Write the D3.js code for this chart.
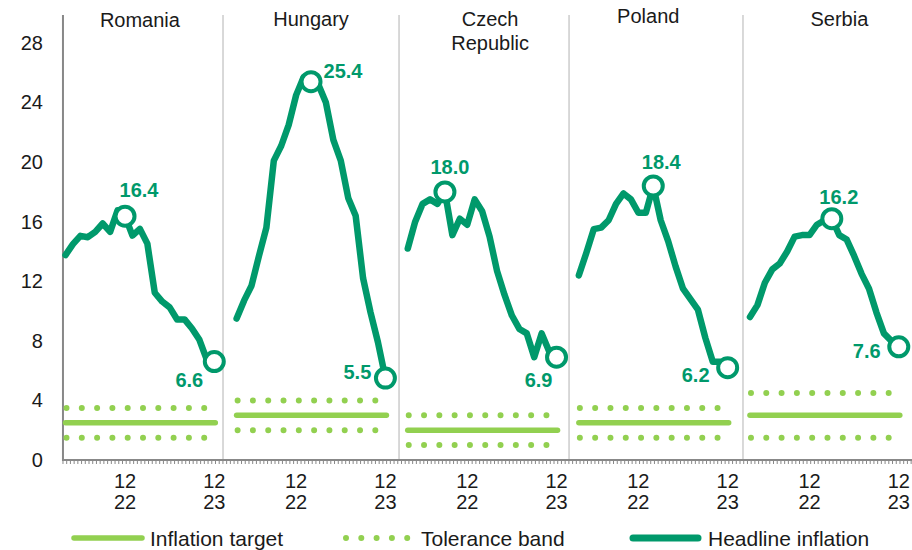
<!DOCTYPE html>
<html>
<head>
<meta charset="utf-8">
<script src="https://cdn.jsdelivr.net/npm/d3@7"></script>
<style>
  html, body { margin: 0; padding: 0; background: #fff; }
  svg { display: block; font-family: "Liberation Sans", Arial, sans-serif; }
</style>
</head>
<body>
<svg id="chart" width="912" height="550"></svg>
<script>
// ---------- DATA ----------
const countries = ["Romania", "Hungary", "Czech\nRepublic", "Poland", "Serbia"];
const months = ["2022-04","2022-05","2022-06","2022-07","2022-08","2022-09","2022-10","2022-11","2022-12",
                "2023-01","2023-02","2023-03","2023-04","2023-05","2023-06","2023-07","2023-08","2023-09",
                "2023-10","2023-11","2023-12"];
const romania = [13.76,14.49,15.05,14.96,15.32,15.88,15.32,16.76,16.37,15.07,15.52,14.53,11.23,10.64,10.25,9.43,9.44,8.83,8.07,6.72,6.61];
const hungary = [9.5,10.7,11.7,13.7,15.6,20.1,21.1,22.5,24.5,25.7,25.4,25.2,24.0,21.5,20.1,17.6,16.4,12.2,9.9,7.9,5.5];
const czech   = [14.2,16.0,17.2,17.5,17.2,18.0,15.1,16.2,15.8,17.5,16.7,15.0,12.7,11.1,9.7,8.8,8.5,6.9,8.5,7.3,6.9];
const poland  = [12.4,13.9,15.5,15.6,16.1,17.2,17.9,17.5,16.6,16.6,18.4,16.1,14.7,13.0,11.5,10.8,10.1,8.2,6.6,6.6,6.2];
const serbia  = [9.6,10.4,11.9,12.8,13.2,14.0,15.0,15.1,15.1,15.8,16.1,16.2,15.1,14.8,13.7,12.5,11.5,9.9,8.5,8.0,7.6];
const headline = [romania, hungary, czech, poland, serbia];
const targets   = [2.5, 3.0, 2.0, 2.5, 3.0];
const bandLow   = [1.5, 2.0, 1.0, 1.5, 1.5];
const bandHigh  = [3.5, 4.0, 3.0, 3.5, 4.5];
const peakIndex = [8, 10, 5, 10, 11];          // highlighted peak month per country
const tickMonthIndex = [8, 20];                 // Dec 2022, Dec 2023
const tickLabels = [["12","22"], ["12","23"]];
const yTicks = [0, 4, 8, 12, 16, 20, 24, 28];
const legendLabels = ["Inflation target", "Tolerance band", "Headline inflation"];

// ---------- LAYOUT / STYLE ----------
const W = 912, H = 550;
const DARK = "#00996B", LIGHT = "#92D050", TXT = "#1a1a1a";
const slotsPerPanel = 23;
const slotW = 7.44;
const x0 = 65.5;
const x = d3.scaleLinear().domain([0, 1]).range([x0, x0 + slotW]);
const y = d3.scaleLinear().domain([0, 28]).range([460, 43]);
const slot = (p, m) => p * slotsPerPanel + m;
const separatorSlots = [21.17, 44.83, 67.68, 91.06];
const axisStartSlot = -0.34, axisEndSlot = (W - x0) / slotW;
const titleLayout = [{dx:0, base:27}, {dx:0, base:26}, {dx:8, base:26}, {dx:-5, base:23}, {dx:15, base:26}];
const peakLabelOff = [[14,-26],[32,-11],[5,-25],[8,-24],[7,-22]];
const endLabelOff  = [[-25,18],[-28,-6],[-18,23],[-32,7],[-32,4]];

const svg = d3.select("#chart");
const fmt = d3.format(".1f");

// separators
svg.append("g").selectAll("line").data(separatorSlots).join("line")
  .attr("x1", d => x(d)).attr("x2", d => x(d))
  .attr("y1", 15).attr("y2", y(0))
  .attr("stroke", "#c4c4c4").attr("stroke-width", 1.3);

// y axis
const yAxis = d3.axisLeft(y).tickValues(yTicks).tickSize(0).tickPadding(20);
const gy = svg.append("g").attr("transform", `translate(${x(axisStartSlot)},0)`).call(yAxis);
gy.select(".domain").remove();
gy.selectAll("text").attr("font-size", 20).attr("fill", TXT)
  .attr("font-family", "'Liberation Sans', Arial, sans-serif");
svg.append("line").attr("x1", x(axisStartSlot)).attr("x2", x(axisStartSlot))
  .attr("y1", 15).attr("y2", y(0) + 1).attr("stroke", "#888").attr("stroke-width", 2);

// x axis minor ticks
const minorTicks = d3.range(axisStartSlot, axisEndSlot, 0.5);
svg.append("g").selectAll("line").data(minorTicks).join("line")
  .attr("x1", d => x(d)).attr("x2", d => x(d))
  .attr("y1", y(0)).attr("y2", y(0) + 4)
  .attr("stroke", "#888").attr("stroke-width", 1);
svg.append("line").attr("x1", x(axisStartSlot)).attr("x2", W)
  .attr("y1", y(0)).attr("y2", y(0)).attr("stroke", "#888").attr("stroke-width", 2);

// x tick labels
countries.forEach((c, p) => {
  tickMonthIndex.forEach((mi, k) => {
    const t = svg.append("text").attr("x", x(slot(p, mi))).attr("text-anchor", "middle")
      .attr("font-size", 20).attr("fill", TXT);
    tickLabels[k].forEach((s, li) => {
      t.append("tspan").attr("x", x(slot(p, mi))).attr("y", 488 + li * 21).text(s);
    });
  });
});

// panels
const line = d3.line().x(d => x(d[0])).y(d => y(d[1])).curve(d3.curveLinear);
countries.forEach((c, p) => {
  const g = svg.append("g");
  const xs = x(slot(p, 0)), xe = x(slot(p, months.length - 1));
  // tolerance band dots
  [bandLow[p], bandHigh[p]].forEach(v => {
    g.append("line").attr("x1", xs + 1).attr("x2", xe).attr("y1", y(v)).attr("y2", y(v))
      .attr("stroke", LIGHT).attr("stroke-width", 6).attr("stroke-linecap", "round")
      .attr("stroke-dasharray", "0 15.3");
  });
  // target
  g.append("line").attr("x1", xs).attr("x2", xe + 1).attr("y1", y(targets[p])).attr("y2", y(targets[p]))
    .attr("stroke", LIGHT).attr("stroke-width", 5.5).attr("stroke-linecap", "round");
  // headline
  const pts = headline[p].map((v, i) => [slot(p, i), v]);
  g.append("path").attr("d", line(pts)).attr("fill", "none")
    .attr("stroke", DARK).attr("stroke-width", 6.5).attr("stroke-linejoin", "round").attr("stroke-linecap", "round");
  // markers + labels
  const marks = [[peakIndex[p], peakLabelOff[p]], [months.length - 1, endLabelOff[p]]];
  marks.forEach(([mi, off]) => {
    const cx = x(slot(p, mi)), cy = y(headline[p][mi]);
    g.append("circle").attr("cx", cx).attr("cy", cy).attr("r", 9.5)
      .attr("fill", "#fff").attr("stroke", DARK).attr("stroke-width", 4);
    g.append("text").attr("x", cx + off[0]).attr("y", cy + off[1]).attr("dy", "0.36em")
      .attr("text-anchor", "middle").attr("font-size", 20).attr("font-weight", "bold")
      .attr("fill", DARK).text(fmt(headline[p][mi]));
  });
  // title
  const tx = (xs + xe) / 2 + titleLayout[p].dx;
  const t = g.append("text").attr("text-anchor", "middle").attr("font-size", 20).attr("fill", TXT);
  c.split("\n").forEach((s, li) => {
    t.append("tspan").attr("x", tx).attr("y", titleLayout[p].base + li * 24).text(s);
  });
});

// legend
const ly = 538;
const lg = svg.append("g");
lg.append("line").attr("x1", 74).attr("x2", 142).attr("y1", ly).attr("y2", ly)
  .attr("stroke", LIGHT).attr("stroke-width", 5.5).attr("stroke-linecap", "round");
lg.append("text").attr("x", 150).attr("y", ly).attr("dy", "0.36em").attr("font-size", 21).attr("fill", TXT).text(legendLabels[0]);
lg.append("line").attr("x1", 346).attr("x2", 408).attr("y1", ly).attr("y2", ly)
  .attr("stroke", LIGHT).attr("stroke-width", 6).attr("stroke-linecap", "round").attr("stroke-dasharray", "0 15.3");
lg.append("text").attr("x", 421).attr("y", ly).attr("dy", "0.36em").attr("font-size", 21).attr("fill", TXT).text(legendLabels[1]);
lg.append("line").attr("x1", 633).attr("x2", 698).attr("y1", ly).attr("y2", ly)
  .attr("stroke", DARK).attr("stroke-width", 7).attr("stroke-linecap", "round");
lg.append("text").attr("x", 708).attr("y", ly).attr("dy", "0.36em").attr("font-size", 21).attr("fill", TXT).text(legendLabels[2]);
</script>
</body>
</html>
